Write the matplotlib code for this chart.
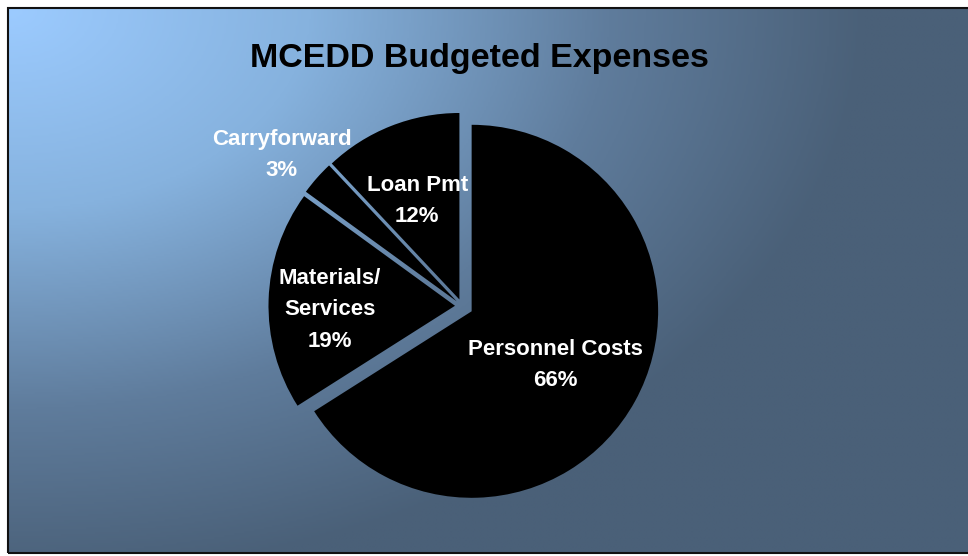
import numpy as np
import matplotlib
matplotlib.use("Agg")
import matplotlib.pyplot as plt
from matplotlib.colors import LinearSegmentedColormap

# ---- data ----
title = "MCEDD Budgeted Expenses"
categories = ["Personnel Costs", "Materials/\nServices", "Carryforward", "Loan Pmt"]
values = [66, 19, 3, 12]

# ---- styles ----
W, H = 968, 556
explode = [11, 7, 7, 7]            # px offsets
label_dist = [0.51, 0.67, 1.25, 0.615]
label_dy = -8
radius = 186.5
pie_center = (462, 556 - 306)

fig = plt.figure(figsize=(W / 100, H / 100), dpi=100)
fig.patch.set_facecolor("white")
ax = fig.add_axes([0, 0, 1, 1])
ax.set_xlim(0, W)
ax.set_ylim(0, H)
ax.set_aspect("equal")
ax.axis("off")

# frame area (pixel coords, y-up)
fx0, fx1 = 8, 972
fy0, fy1 = 556 - 553, 556 - 8

# radial gradient from top-left corner
nx, ny = 480, 280
xs = np.linspace(0, fx1 - fx0, nx)
ys = np.linspace(0, fy1 - fy0, ny)   # distance from top
X, Y = np.meshgrid(xs, ys)
d = np.sqrt(X ** 2 + (Y * 1.5) ** 2) / 860.0
d = np.clip(d, 0, 1)
cmap = LinearSegmentedColormap.from_list(
    "bg", [(0.0, "#9ccbff"), (0.35, "#86b2de"), (0.7, "#5f7c9c"), (1.0, "#4a6078")])
ax.imshow(d, cmap=cmap, vmin=0, vmax=1, extent=(fx0, fx1, fy0, fy1),
          origin="upper", interpolation="bilinear", zorder=0, aspect="auto")
ax.add_patch(plt.Rectangle((fx0, fy0), fx1 - fx0, fy1 - fy0, fill=False,
                           edgecolor="#111111", linewidth=1.5, zorder=5))

wedges, _ = ax.pie(values, explode=explode, startangle=90, counterclock=False,
                   colors=["black"] * len(values), radius=radius,
                   center=pie_center, frame=True,
                   wedgeprops=dict(linewidth=0))
ax.set_xlim(0, W)
ax.set_ylim(0, H)
ax.axis("off")

for w, cat, v, ld in zip(wedges, categories, values, label_dist):
    th = np.deg2rad((w.theta1 + w.theta2) / 2)
    cx, cy = w.center
    tx = cx + ld * w.r * np.cos(th)
    ty = cy + ld * w.r * np.sin(th) + label_dy
    ax.text(tx, ty, f"{cat}\n{v}%", ha="center", va="center", color="white",
            fontsize=16, fontweight="bold", family="Liberation Sans",
            linespacing=1.65, zorder=6)

ax.text(479, 556 - 58, title, ha="center", va="center", fontsize=24.5,
        fontweight="bold", family="Liberation Sans", color="black", zorder=6)

fig.savefig("out.png", dpi=100, facecolor="white")
